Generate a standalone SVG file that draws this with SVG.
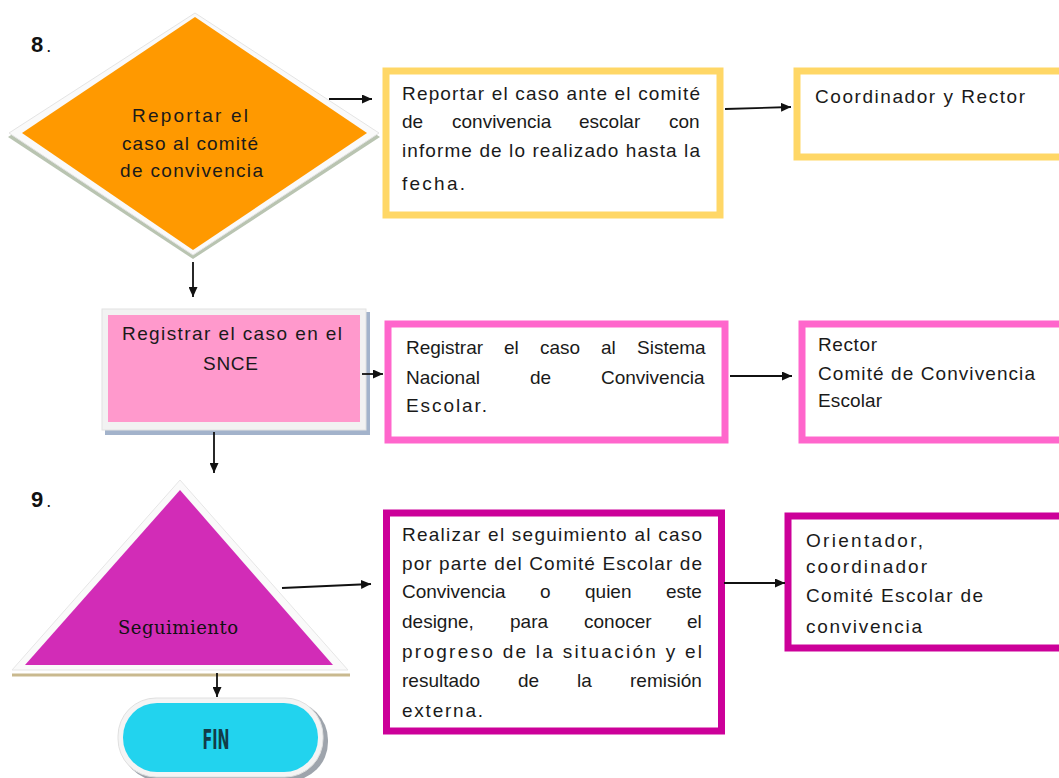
<svg xmlns="http://www.w3.org/2000/svg" width="1059" height="778" viewBox="0 0 1059 778">
<defs>
<marker id="ah" markerUnits="userSpaceOnUse" markerWidth="10" markerHeight="9" refX="10" refY="4.5" orient="auto">
<path d="M0,0 L10,4.5 L0,9 z" fill="#111"/>
</marker>
<style>
.t{font-family:"Liberation Sans",Arial,sans-serif;font-size:19px;fill:#1a1a1a}
.num{font-family:"Liberation Sans",Arial,sans-serif;font-size:22px;fill:#111}
.box{fill:#fff;stroke-width:7}
.yel{stroke:#FFD766}
.pnk{stroke:#FF66CC}
.mag{stroke:#CC0099}
.con line{stroke:#111;stroke-width:1.8;marker-end:url(#ah)}
</style>
</defs>
<rect width="1059" height="778" fill="#fff"/>

<text class="num" x="31" y="52"><tspan font-weight="bold">8</tspan><tspan dx="3" font-size="18">.</tspan></text>
<text class="num" x="31" y="507"><tspan font-weight="bold">9</tspan><tspan dx="3" font-size="18">.</tspan></text>

<g id="n-reportar">
<polygon points="195,17 380,137 193,259 8,137" fill="#b9c4b1"/>
<polygon points="195,13 379,133 193,255 9,133" fill="#fafafa" stroke="#e4e4e4" stroke-width="1"/>
<polygon points="195,17 367,133 193,250 22,133" fill="#FF9900"/>
<text class="t" x="132" y="122" textLength="116" lengthAdjust="spacing">Reportar el</text>
<text class="t" x="122" y="150" textLength="136" lengthAdjust="spacing">caso al comité</text>
<text class="t" x="120" y="177" textLength="143" lengthAdjust="spacing">de convivencia</text>
</g>

<g id="n-reportar-desc">
<rect class="box yel" x="386" y="71" width="334" height="144"/>
<text class="t" x="402" y="100" textLength="298" lengthAdjust="spacing">Reportar el caso ante el comité</text>
<text class="t" y="128"><tspan x="402">de</tspan><tspan x="452">convivencia</tspan><tspan x="579">escolar</tspan><tspan x="669">con</tspan></text>
<text class="t" x="402" y="157" textLength="298" lengthAdjust="spacing">informe de lo realizado hasta la</text>
<text class="t" x="402" y="190" textLength="63" lengthAdjust="spacing">fecha.</text>
</g>

<g id="n-reportar-resp">
<rect class="box yel" x="797" y="71" width="290" height="86"/>
<text class="t" x="815" y="103" textLength="210" lengthAdjust="spacing">Coordinador y Rector</text>
</g>

<g id="n-registrar">
<rect x="105" y="312" width="265" height="123" fill="#a3b3cb"/>
<rect x="102" y="309" width="264" height="121" fill="#f2f2f2" stroke="#e2e2e2" stroke-width="1"/>
<rect x="108" y="315" width="252" height="107" fill="#FF99CC"/>
<text class="t" x="122" y="340" textLength="220" lengthAdjust="spacing">Registrar el caso en el</text>
<text class="t" x="203" y="370" textLength="55" lengthAdjust="spacing">SNCE</text>
</g>

<g id="n-registrar-desc">
<rect class="box pnk" x="388" y="324" width="337" height="116"/>
<text class="t" y="354"><tspan x="406">Registrar</tspan><tspan x="504">el</tspan><tspan x="540">caso</tspan><tspan x="601">al</tspan><tspan x="637">Sistema</tspan></text>
<text class="t" y="384"><tspan x="406">Nacional</tspan><tspan x="530">de</tspan><tspan x="601">Convivencia</tspan></text>
<text class="t" x="406" y="412" textLength="81" lengthAdjust="spacing">Escolar.</text>
</g>

<g id="n-registrar-resp">
<rect class="box pnk" x="802" y="324" width="290" height="116"/>
<text class="t" x="818" y="351" textLength="59" lengthAdjust="spacing">Rector</text>
<text class="t" x="818" y="380" textLength="217" lengthAdjust="spacing">Comité de Convivencia</text>
<text class="t" x="818" y="407" textLength="64" lengthAdjust="spacing">Escolar</text>
</g>

<g id="n-seguimiento">
<line x1="12" y1="675" x2="350" y2="675" stroke="#c9b98f" stroke-width="3"/>
<polygon points="180,480 348,670 12,670" fill="#fafafa" stroke="#e6e6e6" stroke-width="1"/>
<polygon points="180,490 333,665 25,665" fill="#D22CB7"/>
<text x="118" y="634" textLength="120" lengthAdjust="spacing" style="font-family:'DejaVu Serif','Liberation Serif',serif;font-size:18px;fill:#111">Seguimiento</text>
</g>

<g id="n-seguimiento-desc">
<rect class="box mag" x="386.5" y="513" width="335" height="218"/>
<text class="t" x="402" y="541" textLength="300" lengthAdjust="spacing">Realizar el seguimiento al caso</text>
<text class="t" x="402" y="570" textLength="300" lengthAdjust="spacing">por parte del Comité Escolar de</text>
<text class="t" y="598"><tspan x="402">Convivencia</tspan><tspan x="540">o</tspan><tspan x="585">quien</tspan><tspan x="666">este</tspan></text>
<text class="t" y="628"><tspan x="402">designe,</tspan><tspan x="510">para</tspan><tspan x="584">conocer</tspan><tspan x="687">el</tspan></text>
<text class="t" x="402" y="658" textLength="300" lengthAdjust="spacing">progreso de la situación y el</text>
<text class="t" y="687"><tspan x="402">resultado</tspan><tspan x="518">de</tspan><tspan x="577">la</tspan><tspan x="630">remisión</tspan></text>
<text class="t" x="402" y="717" textLength="81" lengthAdjust="spacing">externa.</text>
</g>

<g id="n-seguimiento-resp">
<rect class="box mag" x="788" y="516" width="290" height="132"/>
<text class="t" x="806" y="547" textLength="117" lengthAdjust="spacing">Orientador,</text>
<text class="t" x="806" y="573" textLength="121" lengthAdjust="spacing">coordinador</text>
<text class="t" x="806" y="602" textLength="177" lengthAdjust="spacing">Comité Escolar de</text>
<text class="t" x="806" y="633" textLength="116" lengthAdjust="spacing">convivencia</text>
</g>

<g id="n-fin">
<rect x="121" y="701" width="207" height="80" rx="39" fill="#9ea4ac"/>
<rect x="118" y="698" width="205" height="79" rx="38" fill="#f4f4f4" stroke="#e0e0e0" stroke-width="1"/>
<rect x="123" y="703" width="195" height="69" rx="34" fill="#22D3EE"/>
<text x="216" y="749" text-anchor="middle" textLength="27" lengthAdjust="spacingAndGlyphs" style="font-family:'Liberation Sans Narrow','DejaVu Sans Condensed','Liberation Sans',sans-serif;font-size:26px;font-weight:bold;fill:#123c48">FIN</text>
</g>

<g id="connectors" class="con">
<line x1="329" y1="99" x2="372" y2="99"/>
<line x1="193" y1="262" x2="193" y2="297"/>
<line x1="725" y1="109" x2="791" y2="107"/>
<line x1="362" y1="374" x2="383" y2="374"/>
<line x1="730" y1="376" x2="792" y2="376"/>
<line x1="214" y1="432" x2="214" y2="473"/>
<line x1="282" y1="588" x2="371" y2="584"/>
<line x1="724" y1="583" x2="785" y2="583"/>
<line x1="217" y1="673" x2="217" y2="697"/>
</g>
</svg>
